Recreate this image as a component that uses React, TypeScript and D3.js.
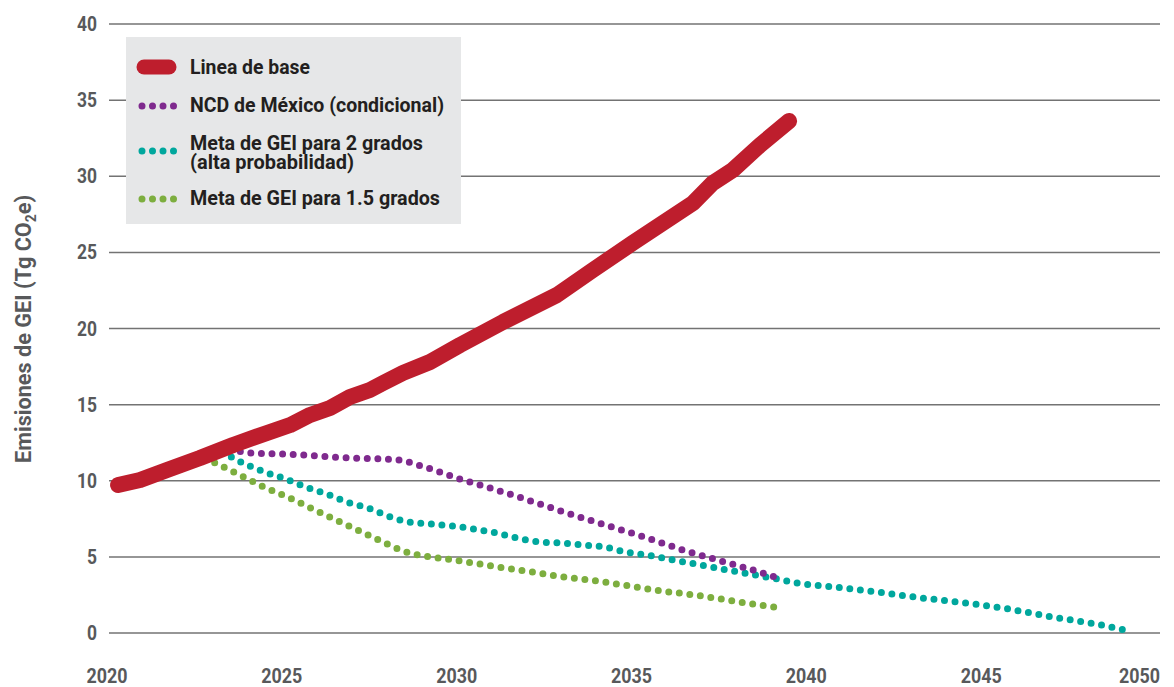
import React from "react";
import * as d3 from "d3";

const W = 1174;
const H = 687;

const yTicks = [0, 5, 10, 15, 20, 25, 30, 35, 40];
const xTicks = [2020, 2025, 2030, 2035, 2040, 2045, 2050];

const baseYears = [2020.26, 2020.89, 2021.66, 2022.6, 2023.55, 2024.52, 2025.18, 2025.75, 2026.32, 2026.89, 2027.46, 2027.84, 2028.41, 2029.18, 2030.04, 2031.27, 2032.81, 2033.84, 2034.98, 2036.7, 2037.27, 2037.84, 2038.62, 2039.45];
const baseValues = [9.72, 10.05, 10.71, 11.49, 12.35, 13.14, 13.66, 14.32, 14.78, 15.5, 15.96, 16.42, 17.08, 17.8, 18.92, 20.43, 22.2, 23.84, 25.62, 28.24, 29.56, 30.41, 32.05, 33.63];

const ncdYears = [2023.46, 2024.09, 2024.98, 2025.95, 2026.89, 2027.84, 2028.46, 2028.75, 2029.38, 2029.95, 2030.52, 2031.72, 2032.93, 2034.1, 2035.3, 2036.5, 2037.7, 2038.87, 2039.19];
const ncdValues = [12.08, 11.82, 11.76, 11.63, 11.49, 11.43, 11.3, 11.1, 10.64, 10.18, 9.79, 8.93, 8.01, 7.16, 6.31, 5.39, 4.6, 3.81, 3.55];

const twoYears = [2023.23, 2023.89, 2024.46, 2025.06, 2025.63, 2026.23, 2026.81, 2027.41, 2027.98, 2028.58, 2029.21, 2029.84, 2030.44, 2031.07, 2031.67, 2032.3, 2032.9, 2033.53, 2034.16, 2034.76, 2035.38, 2035.99, 2036.61, 2037.24, 2037.84, 2038.47, 2039.1, 2039.67, 2040.76, 2041.96, 2043.25, 2044.51, 2045.71, 2046.97, 2048.22, 2049.05];
const twoValues = [11.89, 11.1, 10.57, 10.11, 9.59, 9.13, 8.6, 8.21, 7.68, 7.29, 7.16, 7.03, 6.83, 6.57, 6.24, 5.98, 5.91, 5.78, 5.65, 5.32, 5.12, 4.86, 4.6, 4.33, 4.07, 3.81, 3.55, 3.28, 3.02, 2.69, 2.3, 1.97, 1.58, 1.05, 0.59, 0.2];

const onefiveYears = [2022.75, 2023.57, 2024.43, 2025.29, 2026.12, 2026.98, 2027.84, 2028.41, 2029.01, 2029.64, 2030.24, 2031.15, 2032.1, 2033.01, 2033.95, 2034.87, 2035.81, 2036.73, 2037.67, 2038.59, 2039.22];
const onefiveValues = [11.49, 10.57, 9.59, 8.74, 7.82, 6.9, 5.98, 5.39, 5.06, 4.86, 4.66, 4.33, 4.01, 3.68, 3.42, 3.09, 2.76, 2.5, 2.17, 1.84, 1.64];

const legendLabels = [
  "Linea de base",
  "NCD de México (condicional)",
  "Meta de GEI para 2 grados",
  "(alta probabilidad)",
  "Meta de GEI para 1.5 grados",
];

const RED = "#BE1E2D";
const PURPLE = "#7F2A8E";
const TEAL = "#00A79D";
const GREEN = "#7DAE3F";
const GRID = "#737373";
const LABEL = "#58595B";
const FONT = "Roboto, 'Liberation Sans', sans-serif";

export default function App() {
  const x = d3.scaleLinear().domain([2020, 2050]).range([109, 1158]);
  const y = d3.scaleLinear().domain([0, 40]).range([633, 24]);
  const line = d3
    .line<[number, number]>()
    .x((d) => x(d[0]))
    .y((d) => y(d[1]))
    .curve(d3.curveMonotoneX);
  const lineLin = d3
    .line<[number, number]>()
    .x((d) => x(d[0]))
    .y((d) => y(d[1]));

  const zip = (a: number[], b: number[]) => a.map((v, i) => [v, b[i]] as [number, number]);

  const dotted = [
    { data: zip(onefiveYears, onefiveValues), color: GREEN },
    { data: zip(twoYears, twoValues), color: TEAL },
    { data: zip(ncdYears, ncdValues), color: PURPLE },
  ];

  const dash = "0 10.6";
  const legendY = [74, 112, 150, 169, 205];
  const legendLen = [120, 254, 233, 164, 250];

  return (
    <svg
      width={W}
      height={H}
      style={{ position: "absolute", left: 0, top: 0, background: "#fff" }}
      fontFamily={FONT}
    >
      {yTicks.map((t) => (
        <g key={t}>
          <line x1={109} x2={1160} y1={y(t)} y2={y(t)} stroke={GRID} strokeWidth={1.5} />
          <text
            x={97}
            y={y(t) + 7}
            textAnchor="end"
            fontSize={20}
            fontWeight="bold"
            fill={LABEL}
            textLength={String(t).length * 10}
            lengthAdjust="spacingAndGlyphs"
          >
            {t}
          </text>
        </g>
      ))}
      {xTicks.map((t, i) => (
        <text
          key={t}
          x={i === xTicks.length - 1 ? 1160 : x(t) - 2}
          y={683}
          textAnchor={i === xTicks.length - 1 ? "end" : "middle"}
          fontSize={20}
          fontWeight="bold"
          fill={LABEL}
          textLength={41}
          lengthAdjust="spacingAndGlyphs"
        >
          {t}
        </text>
      ))}
      <text
        transform={`translate(31,329) rotate(-90)`}
        textAnchor="middle"
        fontSize={22}
        fontWeight="bold"
        fill={LABEL}
        textLength={268}
        lengthAdjust="spacingAndGlyphs"
      >
        Emisiones de GEI (Tg CO
        <tspan fontSize={14} dy={5}>2</tspan>
        <tspan dy={-5}>e)</tspan>
      </text>

      {dotted.map((s, i) => (
        <path
          key={i}
          d={line(s.data) || ""}
          fill="none"
          stroke={s.color}
          strokeWidth={7}
          strokeLinecap="round"
          strokeDasharray={dash}
        />
      ))}
      <path
        d={lineLin(zip(baseYears, baseValues)) || ""}
        fill="none"
        stroke={RED}
        strokeWidth={16}
        strokeLinecap="round"
        strokeLinejoin="round"
      />

      <rect x={126} y={37} width={335} height={187} fill="#E6E7E8" />
      <line x1={144} x2={169} y1={67} y2={67} stroke={RED} strokeWidth={15} strokeLinecap="round" />
      {[PURPLE, TEAL, GREEN].map((c, i) => (
        <line
          key={c}
          x1={142}
          x2={174}
          y1={[106, 151, 199][i]}
          y2={[106, 151, 199][i]}
          stroke={c}
          strokeWidth={7}
          strokeLinecap="round"
          strokeDasharray="0 10.5"
        />
      ))}
      {legendLabels.map((l, i) => (
        <text
          key={i}
          x={190}
          y={legendY[i]}
          fontSize={20}
          fontWeight="bold"
          fill="#231F20"
          textLength={legendLen[i]}
          lengthAdjust="spacingAndGlyphs"
        >
          {l}
        </text>
      ))}
    </svg>
  );
}
